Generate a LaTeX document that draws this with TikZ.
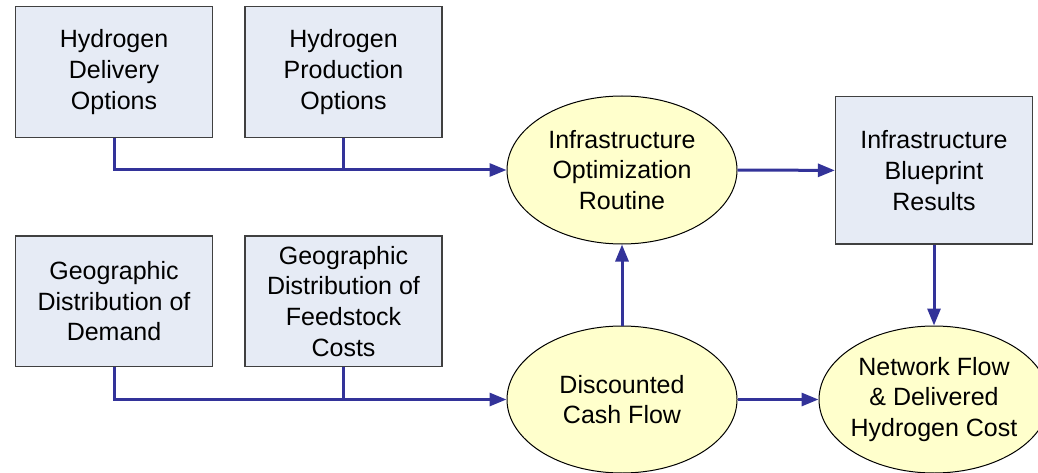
\documentclass[tikz,border=0pt]{standalone}
\usepackage{fontspec}
\setmainfont{Liberation Sans}
\usetikzlibrary{arrows.meta,shapes.geometric}
\definecolor{boxfill}{RGB}{230,235,245}
\definecolor{ellfill}{RGB}{255,255,204}
\definecolor{flow}{RGB}{51,51,153}
\definecolor{boxline}{RGB}{64,64,64}
\begin{document}
\begin{tikzpicture}[x=1pt,y=-1pt,
  txt/.style={font=\fontsize{25}{30.7}\selectfont, align=center, text=black},
  inbox/.style={txt, rectangle, draw=boxline, line width=1.3pt, fill=boxfill,
    minimum width=197pt, minimum height=130.5pt, inner sep=0pt},
  oval/.style={txt, ellipse, draw=black, line width=1pt, fill=ellfill,
    minimum width=230pt, minimum height=147pt, inner xsep=-20pt, inner ysep=0pt},
  flowline/.style={draw=flow, line width=3pt},
  flowarrow/.style={flowline, -{Triangle[length=17pt,width=13pt]}}]
\useasboundingbox (0,0) rectangle (1038,473);
\node[inbox] (hdo) at (114,72) {Hydrogen\\Delivery\\Options};
\node[inbox] (hpo) at (343.5,72) {Hydrogen\\Production\\Options};
\node[inbox] (gdd) at (114,301.2) {Geographic\\Distribution of\\Demand};
\node[inbox] (gdf) at (343.5,301.2) {Geographic\\Distribution of\\Feedstock\\Costs};
\node[inbox, minimum height=147.3pt] (ibr) at (934,170.4) {Infrastructure\\Blueprint\\Results};
\node[oval, minimum height=148pt] (ior) at (622,170) {Infrastructure\\Optimization\\Routine};
\node[oval] (dcf) at (622,399.5) {Discounted\\Cash Flow};
\node[oval] (nfd) at (934,399.5) {Network Flow\\\& Delivered\\Hydrogen Cost};
\draw[flowarrow] (hdo.south) |- (ior.west);
\draw[flowline] (hpo.south) -- (hpo.south |- ior.west);
\draw[flowarrow] (gdd.south) |- (dcf.west);
\draw[flowline] (gdf.south) -- (gdf.south |- dcf.west);
\draw[flowarrow] (dcf.north) -- (ior.south);
\draw[flowarrow] (ior.east) -- (ibr.west);
\draw[flowarrow] (ibr.south) -- (nfd.north);
\draw[flowarrow] (dcf.east) -- (nfd.west);
\end{tikzpicture}
\end{document}
